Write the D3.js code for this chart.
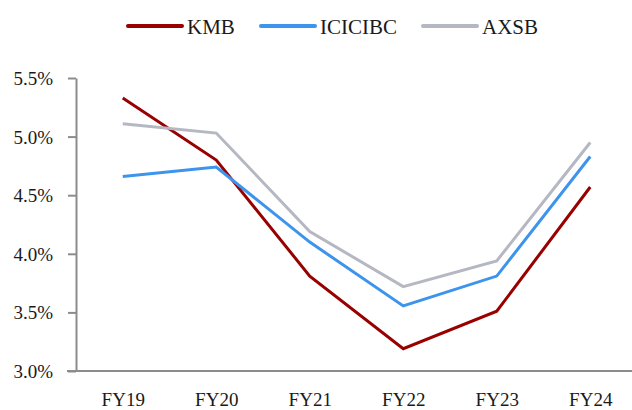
<!DOCTYPE html>
<html>
<head>
<meta charset="utf-8">
<script src="https://cdn.jsdelivr.net/npm/d3@7/dist/d3.min.js"></script>
<style>
  html, body { margin: 0; padding: 0; background: #fff; }
  svg { display: block; }
  text { font-family: "Liberation Serif", "DejaVu Serif", serif; fill: #1a1a1a; }
</style>
</head>
<body>
<svg id="chart" width="632" height="410"></svg>
<script>
// Fiscal years on the x axis
const years = ["FY19", "FY20", "FY21", "FY22", "FY23", "FY24"];

// Ratio per bank, in percent
const kmb     = [5.33, 4.80, 3.81, 3.19, 3.51, 4.57];
const icicibc = [4.66, 4.74, 4.10, 3.555, 3.81, 4.83];
const axsb    = [5.11, 5.03, 4.19, 3.72, 3.94, 4.95];

const yTicks = [3.0, 3.5, 4.0, 4.5, 5.0, 5.5];

const seriesNames = ["KMB", "ICICIBC", "AXSB"];
const seriesValues = [kmb, icicibc, axsb];
const seriesColors = ["#990000", "#3d94ec", "#b5b7c3"];

const svg = d3.select("#chart");

const x = d3.scalePoint().domain(years).range([76, 637]).padding(0.5);
const y = d3.scaleLinear().domain([3.0, 5.5]).range([371, 78]);

const axisColor = "#8c8c8c";

// Y axis
const yAxis = svg.append("g")
  .attr("transform", "translate(76,0)")
  .call(d3.axisLeft(y).tickValues(yTicks).tickSize(8).tickSizeOuter(0).tickPadding(15)
    .tickFormat(d => d.toFixed(1) + "%"));
yAxis.select(".domain").attr("stroke", axisColor).attr("stroke-width", 2);
yAxis.selectAll(".tick line").attr("stroke", axisColor).attr("stroke-width", 2);
yAxis.selectAll(".tick text")
  .style("font-family", '"Liberation Serif", serif')
  .style("font-size", "19px").attr("fill", "#1a1a1a").attr("dy", "0.34em");

// X axis
const xAxis = svg.append("g")
  .attr("transform", "translate(0,371)")
  .call(d3.axisBottom(x).tickSize(0).tickPadding(0));
xAxis.select(".domain").remove();
xAxis.selectAll(".tick text")
  .style("font-family", '"Liberation Serif", serif')
  .style("font-size", "19px").attr("fill", "#1a1a1a")
  .attr("y", 35).attr("dy", 0);
xAxis.append("line")
  .attr("x1", 67).attr("x2", 632).attr("y1", 0).attr("y2", 0)
  .attr("stroke", axisColor).attr("stroke-width", 2);

// Series lines
const line = d3.line().x((d, i) => x(years[i])).y(d => y(d));
seriesValues.forEach((vals, i) => {
  svg.append("path")
    .datum(vals)
    .attr("fill", "none")
    .attr("stroke", seriesColors[i])
    .attr("stroke-width", 3)
    .attr("stroke-linejoin", "miter")
    .attr("d", line);
});

// Legend
const legendX = [128, 261, 423];
const legend = svg.append("g");
seriesNames.forEach((name, i) => {
  const g = legend.append("g").attr("transform", `translate(${legendX[i]},26)`);
  g.append("line").attr("x1", 0).attr("x2", 54).attr("y1", 0).attr("y2", 0)
    .attr("stroke", seriesColors[i]).attr("stroke-width", 4).attr("stroke-linecap", "round");
  g.append("text").attr("x", 59).attr("y", 8)
    .style("font-size", "21px").text(name);
});
</script>
</body>
</html>
